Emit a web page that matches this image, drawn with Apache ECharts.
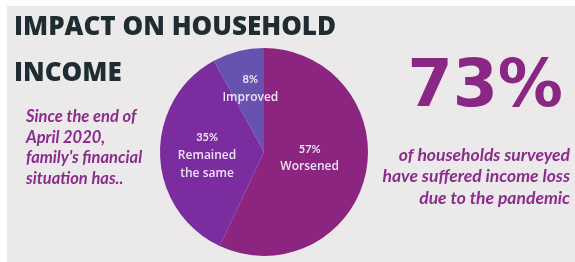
<!DOCTYPE html>
<html>
<head>
<meta charset="utf-8">
<script src="https://cdn.jsdelivr.net/npm/echarts@6/dist/echarts.min.js"></script>
<style>
html,body{margin:0;padding:0;background:#ffffff;}
#chart{width:575px;height:262px;}
</style>
</head>
<body>
<div id="chart"></div>
<script>
const categories = ["Worsened", "Remained\nthe same", "Improved"];
const values = [57, 35, 8];
const sliceColors = ["#8c2580", "#7b2c9f", "#6752b0"];
const titleLines = ["IMPACT ON HOUSEHOLD", "INCOME"];
const leftNoteLines = ["Since the end of", "April 2020,", "family's financial", "situation has.."];
const headlineValue = "73%";
const rightNoteLines = ["of households surveyed", "have suffered income loss", "due to the pandemic"];

const noteColor = '#8a2c8c';
const graphics = [{
  type: 'rect', z: -10, silent: true,
  shape: {x: 7, y: 6, width: 568, height: 256},
  style: {fill: '#ebe9ea'}
}];
titleLines.forEach((t, i) => graphics.push({
  type: 'text', x: 14, y: 28 + i * 46, silent: true,
  style: {text: t, fill: '#1f2c32', font: '800 26px "Open Sans"', textAlign: 'left', textVerticalAlign: 'middle'}
}));
leftNoteLines.forEach((t, i) => graphics.push({
  type: 'text', x: 26, y: 117 + i * 20.5, silent: true,
  style: {text: t, fill: noteColor, font: 'italic bold 16.5px Lato', textAlign: 'left', textVerticalAlign: 'middle'}
}));
graphics.push({
  type: 'text', x: 563, y: 89, silent: true,
  style: {text: headlineValue, fill: '#8a2785', font: 'bold 65px "DejaVu Sans"', textAlign: 'right', textVerticalAlign: 'middle'}
});
rightNoteLines.forEach((t, i) => graphics.push({
  type: 'text', x: 570, y: 155 + i * 21.5, silent: true,
  style: {text: t, fill: noteColor, font: 'italic bold 17.5px Lato', textAlign: 'right', textVerticalAlign: 'middle'}
}));

const labelOffsets = [[-8, -6], [-2, 2], [0, -10]];

const chart = echarts.init(document.getElementById('chart'), null, {renderer: 'canvas'});
chart.setOption({
  backgroundColor: '#ffffff',
  animation: false,
  graphic: graphics,
  series: [{
    type: 'pie',
    center: [264, 152],
    radius: 104,
    startAngle: 90,
    clockwise: true,
    silent: true,
    data: categories.map((c, i) => ({
      name: c, value: values[i],
      itemStyle: {color: sliceColors[i]},
      label: {offset: labelOffsets[i]}
    })),
    label: {
      show: true, position: 'inside',
      formatter: p => '{p|' + p.value + '%}\n{n|' + p.name + '}',
      rich: {
        p: {fontFamily: 'Lato', fontSize: 11, fontWeight: 'bold', color: '#efe3f3', lineHeight: 17},
        n: {fontFamily: 'Open Sans', fontSize: 12, fontWeight: 600, color: '#efe3f3', lineHeight: 18}
      }
    },
    labelLine: {show: false},
    itemStyle: {borderWidth: 0}
  }]
});
</script>
</body>
</html>
